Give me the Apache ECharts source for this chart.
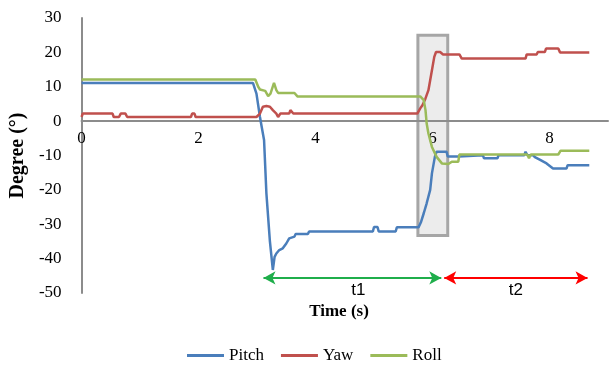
<!DOCTYPE html>
<html>
<head>
<meta charset="utf-8">
<script src="https://cdn.jsdelivr.net/npm/echarts@6/dist/echarts.min.js"></script>
<style>
html,body{margin:0;padding:0;background:#fff;}
#chart{width:611px;height:367px;}
</style>
</head>
<body>
<div id="chart"></div>
<script>
// ---- data (time s, degree) ----
const seriesNames = ['Pitch', 'Yaw', 'Roll'];
const seriesColors = ['#4a7ebb', '#c0504d', '#9bbb59'];

const pitchData = [
  [0, 11.1], [2.93, 11.1], [2.99, 8], [3.05, 1.2], [3.08, -1.7], [3.12, -5.5], [3.16, -21],
  [3.22, -35], [3.27, -43.3], [3.30, -39.5], [3.33, -38.5], [3.38, -37.5], [3.44, -37],
  [3.50, -35.6], [3.55, -34.1], [3.64, -33.6], [3.66, -32.8], [3.87, -32.8], [3.89, -32.1],
  [4.98, -32.1], [5.00, -30.8], [5.06, -30.8], [5.08, -32.1], [5.37, -32.1], [5.39, -30.9],
  [5.76, -30.9], [5.80, -29.5], [5.85, -26.8], [5.90, -23.9], [5.96, -20], [5.99, -15.2],
  [6.04, -10.4], [6.07, -8.9], [6.24, -8.9], [6.26, -10.3], [6.45, -10.3], [6.47, -9.9],
  [6.86, -9.9], [6.88, -10.8], [7.11, -10.8], [7.13, -9.9], [7.57, -9.9], [7.59, -8.9],
  [7.62, -9.9], [7.72, -9.9], [7.75, -10.5], [7.84, -11.3], [7.95, -12.3], [8.06, -13.8],
  [8.29, -13.8], [8.31, -12.8], [8.68, -12.8]
];

const yawData = [
  [0, 1.2], [0.02, 2.2], [0.53, 2.2], [0.55, 1.2], [0.64, 1.2], [0.67, 2.2], [0.75, 2.2],
  [0.78, 1.2], [1.87, 1.2], [1.89, 2.2], [1.93, 2.2], [1.95, 1.2], [2.99, 1.2], [3.05, 2.2],
  [3.10, 4.2], [3.16, 4.4], [3.22, 4.2], [3.27, 3.2], [3.33, 2.2], [3.36, 1.2], [3.40, 2.2],
  [3.55, 2.2], [3.57, 3.2], [3.60, 3.2], [3.62, 2.2], [5.74, 2.2], [5.79, 3.7], [5.83, 4.7],
  [5.88, 6.6], [5.93, 9], [5.96, 11.9], [5.99, 14.8], [6.03, 18.7], [6.06, 20.1], [6.13, 20.1],
  [6.18, 19.4], [6.46, 19.4], [6.50, 18.2], [7.59, 18.2], [7.61, 19.4], [7.78, 19.4],
  [7.80, 20.1], [7.92, 20.1], [7.94, 21.1], [8.15, 21.1], [8.18, 20], [8.68, 20]
];

const rollData = [
  [0, 12.1], [2.97, 12.1], [3.02, 10], [3.05, 9.2], [3.14, 8.8], [3.19, 7.3], [3.23, 8],
  [3.29, 11.1], [3.33, 9], [3.36, 8.2], [3.64, 8.2], [3.66, 7.8], [3.69, 7.2], [5.79, 7.2],
  [5.85, 6.1], [5.88, 3.2], [5.90, -0.7], [5.93, -3.6], [5.99, -7.5], [6.07, -10.4],
  [6.16, -12.3], [6.27, -12.5], [6.33, -11.8], [6.44, -11.8], [6.46, -9.7], [7.62, -9.7],
  [7.65, -10.8], [7.68, -9.7], [8.15, -9.7], [8.19, -8.6], [8.68, -8.6]
];

// annotation ranges (data units)
const boxX = [5.75, 6.26];
const boxY = [25, -33.3];
const arrowY = -45.6;
const t1Range = [3.11, 6.15];
const t2Range = [6.20, 8.65];
const xTickLabels = [0, 2, 4, 6, 8];
const yMin = -50, yMax = 30;

const serif = '"Liberation Serif", "Times New Roman", serif';

const gridTop = 18, gridBottom = 74, chartH = 367;
const gridH = chartH - gridTop - gridBottom;
// put the x axis (line + labels) on the zero line
const zeroOffset = -gridH * (0 - yMin) / (yMax - yMin);

const chart = echarts.init(document.getElementById('chart'), null, {renderer: 'canvas'});

const dataSets = [pitchData, yawData, rollData];
const lineSeries = seriesNames.map((n, i) => ({
  name: n,
  type: 'line',
  data: dataSets[i],
  showSymbol: false,
  z: 3,
  lineStyle: {color: seriesColors[i], width: 2.5},
  itemStyle: {color: seriesColors[i]},
  animation: false
}));

const option = {
  animation: false,
  backgroundColor: '#fff',
  grid: {left: 76, right: -2, top: gridTop, bottom: gridBottom, containLabel: false},
  xAxis: {
    type: 'value', min: 0, max: 9, interval: 2, z: 2,
    position: 'bottom', offset: zeroOffset,
    axisLine: {show: true, onZero: false, lineStyle: {color: '#8c8c8c', width: 2}},
    axisTick: {show: false},
    splitLine: {show: false},
    axisLabel: {
      margin: 9, color: '#000', fontFamily: serif, fontSize: 17, hideOverlap: false,
      formatter: v => (xTickLabels.indexOf(v) >= 0 ? String(v) : '')
    }
  },
  yAxis: {
    type: 'value', min: yMin, max: yMax, interval: 10, z: 2,
    name: 'Degree (°)', nameLocation: 'middle', nameGap: 51,
    nameTextStyle: {fontFamily: serif, fontSize: 20, fontWeight: 'bold', color: '#000'},
    axisLine: {show: true, onZero: false, lineStyle: {color: '#8c8c8c', width: 2}},
    axisTick: {show: false},
    splitLine: {show: false},
    axisLabel: {margin: 20, color: '#000', fontFamily: serif, fontSize: 17}
  },
  legend: {
    data: seriesNames, left: 182, top: 342, icon: 'rect',
    itemWidth: 37, itemHeight: 3, itemGap: 17,
    textStyle: {fontFamily: serif, fontSize: 17, color: '#000'}
  },
  graphic: [{
    type: 'text', x: 339, y: 312,
    style: {text: 'Time (s)', font: 'bold 17px ' + serif, fill: '#000', textAlign: 'center', textVerticalAlign: 'middle'}
  }],
  series: [
    {
      type: 'line', data: [], z: 1, silent: true,
      markArea: {
        silent: true,
        itemStyle: {color: '#ececec', borderColor: '#a6a6a6', borderWidth: 3},
        data: [[{xAxis: boxX[0], yAxis: boxY[0]}, {xAxis: boxX[1], yAxis: boxY[1]}]]
      }
    },
    ...lineSeries,
    {
      type: 'line', data: [], z: 5, silent: true,
      markLine: {
        silent: true, symbol: ['arrow', 'arrow'], symbolSize: [10, 12],
        label: {show: true, position: 'insideMiddleBottom', formatter: '{b}', color: '#000',
                fontFamily: '"Liberation Sans", Arial, sans-serif', fontSize: 17, distance: 4},
        data: [
          [{name: 't1', coord: [t1Range[0], arrowY], lineStyle: {color: '#1fae4b', width: 2, type: 'solid'},
            itemStyle: {color: '#1fae4b'}, label: {offset: [6, 0]}},
           {coord: [t1Range[1], arrowY]}],
          [{name: 't2', coord: [t2Range[0], arrowY], lineStyle: {color: '#ff0000', width: 2, type: 'solid'},
            itemStyle: {color: '#ff0000'}},
           {coord: [t2Range[1], arrowY]}]
        ]
      }
    }
  ]
};
chart.setOption(option);
</script>
</body>
</html>
